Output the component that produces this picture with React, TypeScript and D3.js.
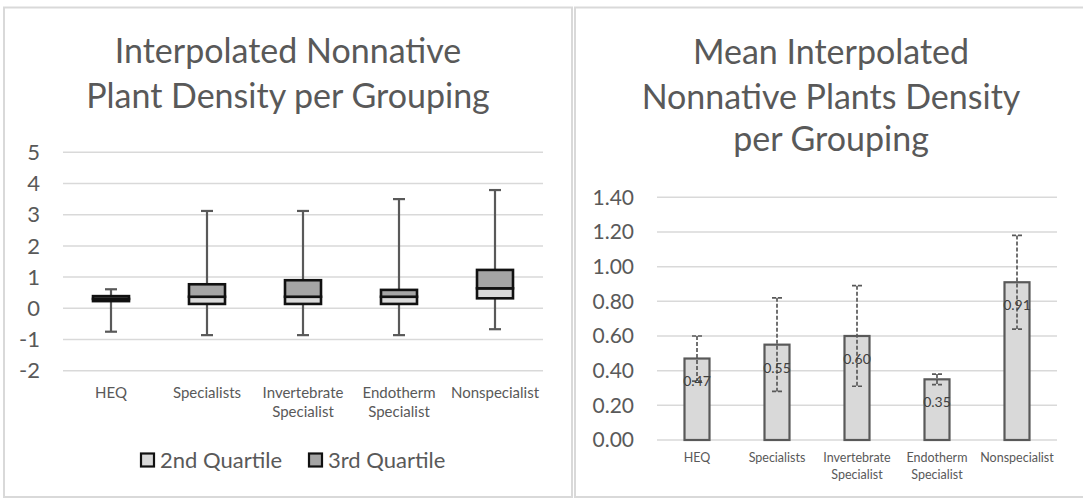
import React from "react";
import * as d3 from "d3";

const categories = ["HEQ", "Specialists", "Invertebrate Specialist", "Endotherm Specialist", "Nonspecialist"];
const categoryLines = [["HEQ"], ["Specialists"], ["Invertebrate", "Specialist"], ["Endotherm", "Specialist"], ["Nonspecialist"]];

// Box plot (left)
const whiskerMin = [-0.75, -0.86, -0.86, -0.86, -0.67];
const q1Vals = [0.23, 0.14, 0.14, 0.14, 0.32];
const medianVals = [0.3, 0.37, 0.37, 0.37, 0.64];
const q3Vals = [0.39, 0.77, 0.9, 0.59, 1.23];
const whiskerMax = [0.61, 3.12, 3.12, 3.5, 3.79];
const leftTicks = [-2, -1, 0, 1, 2, 3, 4, 5];

// Mean bar chart (right)
const meanVals = [0.47, 0.55, 0.6, 0.35, 0.91];
const errVals = [0.13, 0.27, 0.29, 0.03, 0.27];
const rightTicks = [0, 0.2, 0.4, 0.6, 0.8, 1.0, 1.2, 1.4];

const legendItems = ["2nd Quartile", "3rd Quartile"];

const FONT = "Lato, 'Noto Sans', sans-serif";
const TXT = "#595959";
const GRID = "#d9d9d9";

export default function App() {
  // Left scales
  const lx = d3.scaleBand<string>().domain(categories).range([63, 543]);
  const ly = d3.scaleLinear().domain([-2, 5]).range([370.7, 152.3]);
  const boxW = 36;
  const capW = 12;

  // Right scales
  const rx = d3.scaleBand<string>().domain(categories).range([657, 1057]);
  const ry = d3.scaleLinear().domain([0, 1.4]).range([440, 197.3]);
  const barW = 25;
  const eCap = 10;

  return (
    <svg width={1083} height={498} style={{ position: "absolute", left: 0, top: 0, background: "#fff" }} fontFamily={FONT}>
      <rect x={0} y={0} width={1083} height={498} fill="#fff" />
      {/* panel borders */}
      <rect x={4} y={7.5} width={568} height={489.5} fill="none" stroke={GRID} strokeWidth={2} />
      <rect x={575} y={7.5} width={520} height={489.5} fill="none" stroke={GRID} strokeWidth={2} />

      {/* LEFT CHART */}
      <text x={288} y={63} textAnchor="middle" fontSize={34} fill={TXT}>Interpolated Nonnative</text>
      <text x={288} y={108} textAnchor="middle" fontSize={34} fill={TXT}>Plant Density per Grouping</text>

      {leftTicks.map((t) => (
        <g key={"lg" + t}>
          <line x1={63} x2={543} y1={ly(t)} y2={ly(t)} stroke={GRID} strokeWidth={1.5} />
          <text x={40} y={ly(t)} dy="0.35em" textAnchor="end" fontSize={22} fill={TXT}>{t}</text>
        </g>
      ))}

      {categories.map((c, i) => {
        const cx = (lx(c) as number) + lx.bandwidth() / 2;
        return (
          <g key={"box" + c}>
            <line x1={cx} x2={cx} y1={ly(whiskerMax[i])} y2={ly(q3Vals[i])} stroke={TXT} strokeWidth={2.2} />
            <line x1={cx - capW / 2} x2={cx + capW / 2} y1={ly(whiskerMax[i])} y2={ly(whiskerMax[i])} stroke={TXT} strokeWidth={2.2} />
            <line x1={cx} x2={cx} y1={ly(q1Vals[i])} y2={ly(whiskerMin[i])} stroke={TXT} strokeWidth={2.2} />
            <line x1={cx - capW / 2} x2={cx + capW / 2} y1={ly(whiskerMin[i])} y2={ly(whiskerMin[i])} stroke={TXT} strokeWidth={2.2} />
            <rect x={cx - boxW / 2} y={ly(medianVals[i])} width={boxW} height={ly(q1Vals[i]) - ly(medianVals[i])} fill="#d9d9d9" stroke="#111" strokeWidth={2.6} />
            <rect x={cx - boxW / 2} y={ly(q3Vals[i])} width={boxW} height={ly(medianVals[i]) - ly(q3Vals[i])} fill="#a5a5a5" stroke="#111" strokeWidth={2.6} />
          </g>
        );
      })}

      {categories.map((c, i) => {
        const cx = (lx(c) as number) + lx.bandwidth() / 2;
        return (
          <text key={"lxl" + c} x={cx} y={397.5} textAnchor="middle" fontSize={15} fill={TXT}>
            {categoryLines[i].map((ln, j) => (
              <tspan key={j} x={cx} dy={j === 0 ? 0 : 19}>{ln}</tspan>
            ))}
          </text>
        );
      })}

      {/* legend */}
      {legendItems.map((l, i) => {
        const x0 = i === 0 ? 141 : 309;
        return (
          <g key={"leg" + l}>
            <rect x={x0} y={453.5} width={13} height={13} fill={i === 0 ? "#d9d9d9" : "#a5a5a5"} stroke="#111" strokeWidth={2.2} />
            <text x={x0 + 19} y={460} dy="0.35em" fontSize={22} fill={TXT}>{l}</text>
          </g>
        );
      })}

      {/* RIGHT CHART */}
      <text x={831} y={64} textAnchor="middle" fontSize={34} fill={TXT}>Mean Interpolated</text>
      <text x={831} y={109} textAnchor="middle" fontSize={34} fill={TXT}>Nonnative Plants Density</text>
      <text x={831} y={151} textAnchor="middle" fontSize={34} fill={TXT}>per Grouping</text>

      {rightTicks.map((t) => (
        <g key={"rg" + t}>
          <line x1={657} x2={1057} y1={ry(t)} y2={ry(t)} stroke={GRID} strokeWidth={1.5} />
          <text x={634} y={ry(t)} dy="0.35em" textAnchor="end" fontSize={21} fill={TXT}>{t.toFixed(2)}</text>
        </g>
      ))}

      {categories.map((c, i) => {
        const cx = (rx(c) as number) + rx.bandwidth() / 2;
        const top = ry(meanVals[i] + errVals[i]);
        const bot = ry(meanVals[i] - errVals[i]);
        return (
          <g key={"bar" + c}>
            <rect x={cx - barW / 2} y={ry(meanVals[i])} width={barW} height={ry(0) - ry(meanVals[i])} fill="#d9d9d9" stroke={TXT} strokeWidth={2.2} />
            <g stroke={TXT} strokeWidth={1.7} strokeDasharray="4,2">
              <line x1={cx} x2={cx} y1={top} y2={bot} />
              <line x1={cx - eCap / 2} x2={cx + eCap / 2} y1={top} y2={top} />
              <line x1={cx - eCap / 2} x2={cx + eCap / 2} y1={bot} y2={bot} />
            </g>
            <text x={cx} y={ry(meanVals[i]) + 23} dy="0.35em" textAnchor="middle" fontSize={14} fill="#404040">{meanVals[i].toFixed(2)}</text>
          </g>
        );
      })}

      {categories.map((c, i) => {
        const cx = (rx(c) as number) + rx.bandwidth() / 2;
        return (
          <text key={"rxl" + c} x={cx} y={461.5} textAnchor="middle" fontSize={12.5} fill={TXT}>
            {categoryLines[i].map((ln, j) => (
              <tspan key={j} x={cx} dy={j === 0 ? 0 : 17}>{ln}</tspan>
            ))}
          </text>
        );
      })}
    </svg>
  );
}
